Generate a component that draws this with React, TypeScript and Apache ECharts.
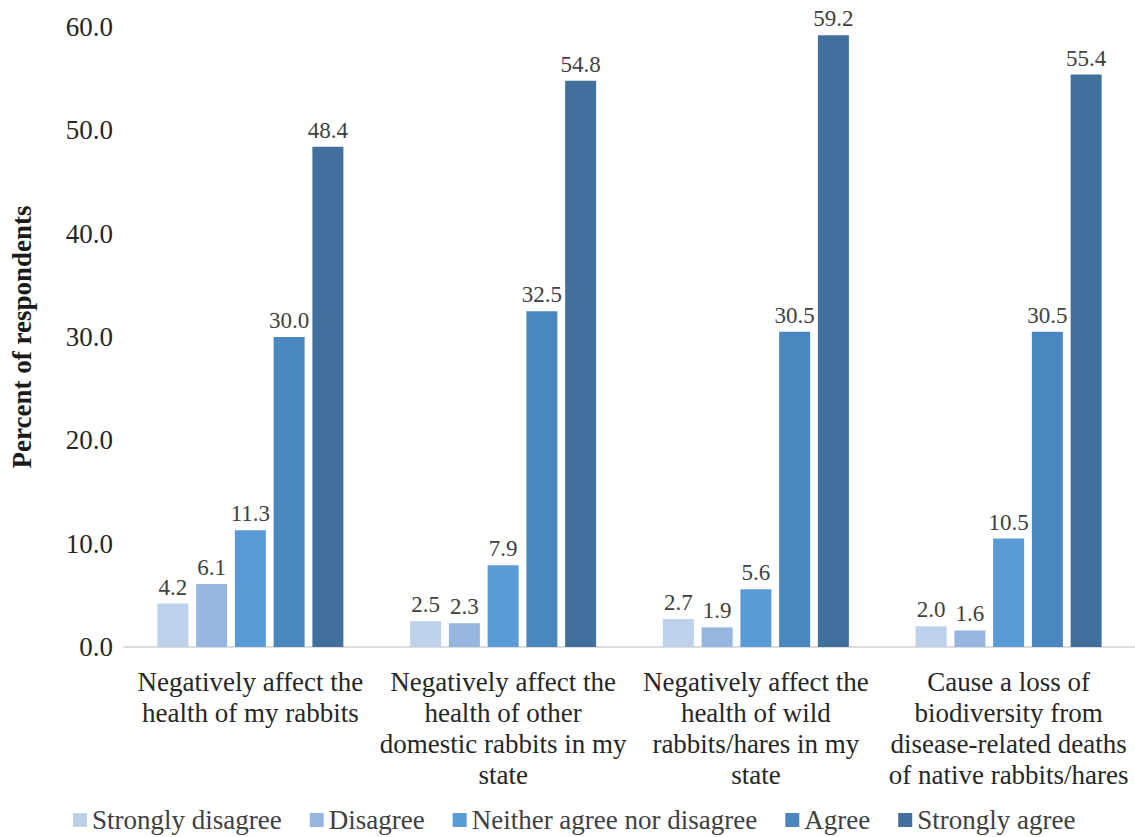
import React, { useEffect, useRef } from "react";
import * as echarts from "echarts";

// Survey statements (x-axis categories)
const categories = [
  "Negatively affect the\nhealth of my rabbits",
  "Negatively affect the\nhealth of other\ndomestic rabbits in my\nstate",
  "Negatively affect the\nhealth of wild\nrabbits/hares in my\nstate",
  "Cause a loss of\nbiodiversity from\ndisease-related deaths\nof native rabbits/hares",
];

// Percent of respondents for each response level
const stronglyDisagree = [4.2, 2.5, 2.7, 2.0];
const disagree = [6.1, 2.3, 1.9, 1.6];
const neither = [11.3, 7.9, 5.6, 10.5];
const agree = [30.0, 32.5, 30.5, 30.5];
const stronglyAgree = [48.4, 54.8, 59.2, 55.4];

const seriesNames = [
  "Strongly disagree",
  "Disagree",
  "Neither agree nor disagree",
  "Agree",
  "Strongly agree",
];
const seriesData = [stronglyDisagree, disagree, neither, agree, stronglyAgree];
const seriesColors = ["#bdd1eb", "#95b6de", "#5b9bd5", "#4a87bf", "#41709c"];

const FONT = "Times New Roman";
const plain = { fontFamily: FONT, fontStyle: "normal", fontWeight: "normal" };

// Keep every chart text in the Times-style serif face
const fontCss = `#survey-chart svg text, #survey-chart svg tspan { font-family: "Liberation Serif", "Times New Roman", serif !important; }`;

export default function App() {
  const ref = useRef<HTMLDivElement>(null);

  useEffect(() => {
    if (!ref.current) return;
    const chart = echarts.init(ref.current, null, { renderer: "svg" });
    chart.setOption({
      animation: false,
      backgroundColor: "#ffffff",
      textStyle: { ...plain },
      grid: { left: 116, right: 0, top: 27, bottom: 190, containLabel: false },
      legend: {
        top: 806,
        left: 73,
        padding: 0,
        itemWidth: 14,
        itemHeight: 14,
        itemGap: 28,
        icon: "rect",
        textStyle: { ...plain, fontSize: 27, lineHeight: 28, color: "#404040" },
        data: seriesNames,
      },
      xAxis: {
        type: "category",
        data: categories,
        axisLine: { lineStyle: { color: "#d0d0d0", width: 1.5 } },
        axisTick: { show: false },
        axisLabel: {
          ...plain,
          interval: 0,
          fontSize: 27,
          color: "#262626",
          lineHeight: 31,
          margin: 19,
        },
      },
      yAxis: {
        type: "value",
        min: 0,
        max: 60,
        interval: 10,
        name: "Percent of respondents",
        nameLocation: "middle",
        nameGap: 89,
        nameTextStyle: { fontFamily: FONT, fontStyle: "normal", fontSize: 27, fontWeight: "bold", color: "#1a1a1a" },
        splitLine: { show: false },
        axisLine: { show: false },
        axisTick: { show: false },
        axisLabel: {
          ...plain,
          fontSize: 27,
          color: "#262626",
          margin: 11,
          formatter: (v: number) => v.toFixed(1),
        },
      },
      series: seriesData.map((d, i) => ({
        name: seriesNames[i],
        type: "bar",
        data: d,
        barWidth: 31,
        barGap: "25%",
        itemStyle: { color: seriesColors[i] },
        label: {
          ...plain,
          show: true,
          position: "top",
          distance: 5,
          fontSize: 23,
          color: "#404040",
          formatter: (p: any) => Number(p.value).toFixed(1),
        },
      })),
    });
    return () => chart.dispose();
  }, []);

  return (
    <>
      <style>{fontCss}</style>
      <div
        id="survey-chart"
        ref={ref}
        style={{ position: "absolute", left: 0, top: 0, width: 1135, height: 837, background: "#fff" }}
      />
    </>
  );
}
